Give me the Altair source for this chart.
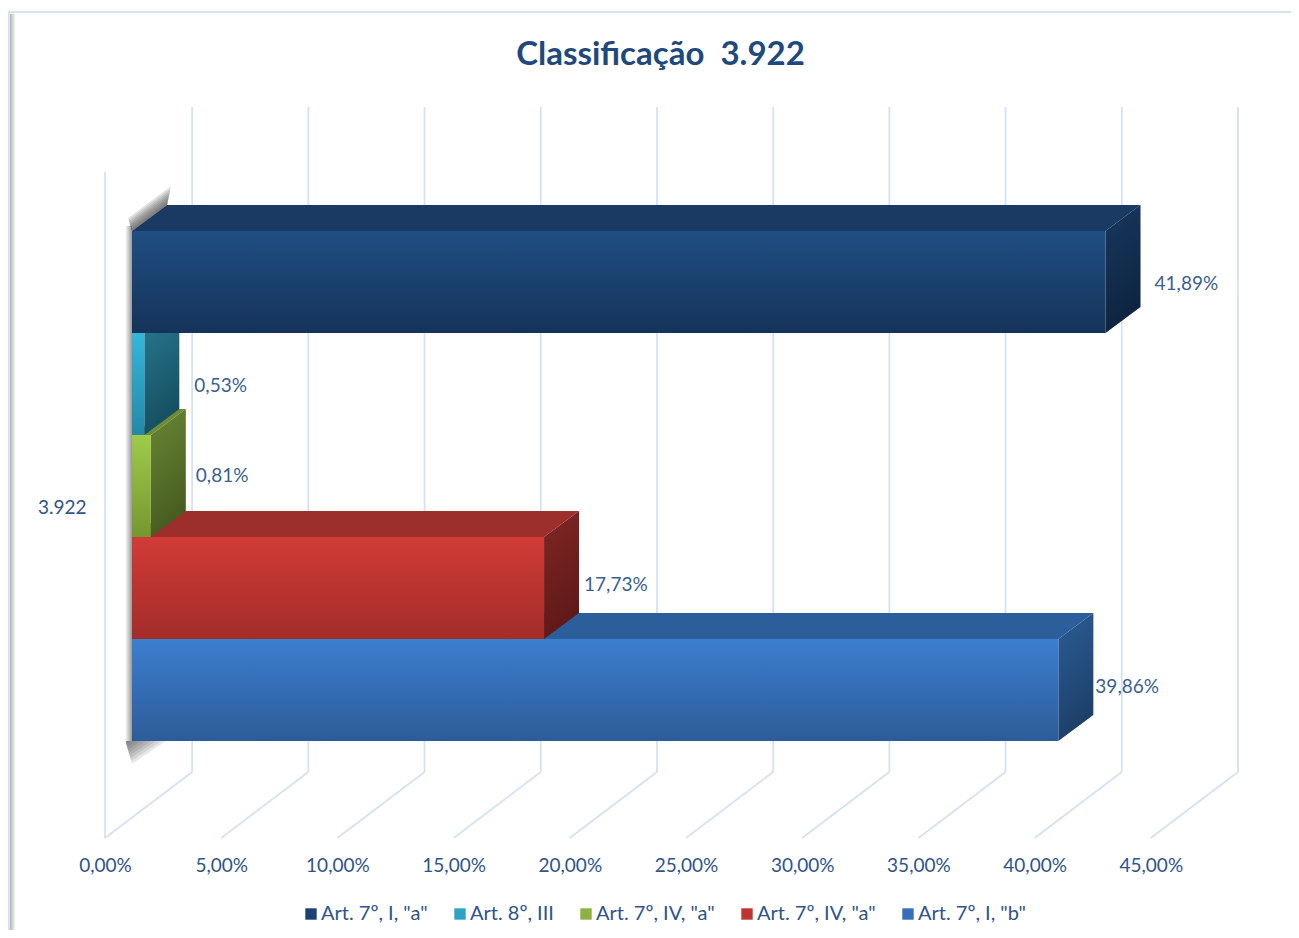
import json
import altair as alt
import pandas as pd

# ---- chart values ----
title_text = "Classificação\u00a0 3.922"
category = "3.922"
series_labels = ['Art. 7º, I, "a"', 'Art. 8º, III', 'Art. 7º, IV, "a"', 'Art. 7º, IV, "a"', 'Art. 7º, I, "b"']
series_values = [41.89, 0.53, 0.81, 17.73, 39.86]
tick_values = [0, 5, 10, 15, 20, 25, 30, 35, 40, 45]

# ---- layout / style (separate from the values) ----
FONT = "Lato"
PX_PER_PCT = 23.24
PX_PER_BAND = 102.0
PLOT_W, PLOT_H = 1133, 731
ORIGIN_X, FLOOR_Y = 105, 838          # page pixels of scale zero
WALL_DX, WALL_DY = 3.75, 66 / PX_PER_BAND
BAR_DX, BAR_DY = 35 / PX_PER_PCT, 26 / PX_PER_BAND
BAR_X0, BAR_Y0 = 27 / PX_PER_PCT, 97 / PX_PER_BAND
WALL_TOP = 731 / PX_PER_BAND
CATEGORY_Y = (FLOOR_Y - 507) / PX_PER_BAND
GRID = "#D5E2F4"
GRID_W = 1.8
TEXT = "#2F5488"
LABEL_TEXT = "#3A5F90"
label_gap_px = [14, 15, 10, 5, 2]
label_shift_px = [2, 2, -10, -3, -3]
palette = [
    dict(legend="#1C4273", front=("#1F4E82", "#15335A"), top="#1A3A63", side=("#17375E", "#0E2440")),
    dict(legend="#2EA3C6", front=("#35B6DB", "#2488A6"), top="#2A7C93", side=("#2A7C93", "#154E60")),
    dict(legend="#8CB33F", front=("#9FCB4A", "#76962F"), top="#6E8B36", side=("#6A8734", "#465C20")),
    dict(legend="#BE3431", front=("#D13B37", "#A32C29"), top="#9C2E2B", side=("#7F2725", "#5F1917")),
    dict(legend="#366FB8", front=("#3C7ECF", "#2D5C99"), top="#2D5E9C", side=("#2B5D96", "#1D3F68")),
]


def grad(c0, c1, x2=0, y2=1, x1=0, y1=0):
    return alt.Gradient(
        gradient="linear", x1=x1, y1=y1, x2=x2, y2=y2,
        stops=[alt.GradientStop(color=c0, offset=0), alt.GradientStop(color=c1, offset=1)],
    )


def px_x(px):
    return (px - ORIGIN_X) / PX_PER_PCT


def px_y(py):
    return (FLOOR_Y - py) / PX_PER_BAND


def lin(x, pts):
    for (a, va), (b, vb) in zip(pts, pts[1:]):
        if a <= x <= b:
            return va if b == a else va + (vb - va) * (x - a) / (b - a)
    return pts[-1][1]


pct_expr = "replace(format(datum.value, '.2f'), '.', ',') + '%'"
xs = alt.Scale(domain=[0, PLOT_W / PX_PER_PCT], nice=False, zero=False)
ys = alt.Scale(domain=[0, PLOT_H / PX_PER_BAND], nice=False, zero=False)
x_axis = alt.Axis(
    values=tick_values, labelExpr=pct_expr, grid=False, domain=False, ticks=False,
    labelFont=FONT, labelFontSize=19, labelColor=TEXT, labelPadding=27, labelBaseline="middle",
    labelFlush=False, labelOverlap=False,
)
y_axis = alt.Axis(
    values=[CATEGORY_Y], labelExpr=json.dumps(category), grid=False, domain=False, ticks=False,
    labelFont=FONT, labelFontSize=19, labelColor=TEXT, labelPadding=19,
)
X = alt.X("x:Q", scale=xs, axis=x_axis, title=None)
Y = alt.Y("y:Q", scale=ys, axis=y_axis, title=None)
X2 = alt.X2("x2:Q")
Y2 = alt.Y2("y2:Q")

layers = []

# page decoration
deco = pd.DataFrame({"a": [0]})
layers.append(alt.Chart(deco).mark_rule(color="#D5E3F3", strokeWidth=2).encode(
    x=alt.value(8 - ORIGIN_X - 8), x2=alt.value(1291 - ORIGIN_X), y=alt.value(12 - 107)))
layers.append(alt.Chart(deco).mark_rect(fill="#D5E3F3").encode(
    x=alt.value(8 - ORIGIN_X), x2=alt.value(10 - ORIGIN_X), y=alt.value(12 - 107), y2=alt.value(930 - 107)))
layers.append(alt.Chart(deco).mark_rect(fill=grad("#B4B4B4", "#FFFFFF", x2=1, y2=0)).encode(
    x=alt.value(10 - ORIGIN_X), x2=alt.value(16 - ORIGIN_X), y=alt.value(14 - 107), y2=alt.value(930 - 107)))

# back wall verticals
back = pd.DataFrame({
    "x": [t + WALL_DX for t in tick_values],
    "y": [WALL_DY] * len(tick_values),
    "y2": [WALL_TOP] * len(tick_values),
})
layers.append(alt.Chart(back).mark_rule(color=GRID, strokeWidth=GRID_W).encode(x=X, y=Y, y2=Y2))

# left wall
wall = pd.DataFrame({"x": [0], "y": [0], "y2": [px_y(172)]})
layers.append(alt.Chart(wall).mark_rule(color=GRID, strokeWidth=GRID_W).encode(x=X, y=Y, y2=Y2))

# floor diagonals
rows = []
for t in tick_values:
    rows.append({"x": t, "y": 0, "k": t})
    rows.append({"x": t + WALL_DX, "y": WALL_DY, "k": t})
layers.append(alt.Chart(pd.DataFrame(rows)).mark_line(color=GRID, strokeWidth=GRID_W).encode(
    x=X, y=Y, detail="k:N", order="y:Q"))

# soft shadow behind the block of bars (stacked translucent shapes)
shadow_left = pd.DataFrame({"x": [px_x(125)], "x2": [BAR_X0], "y": [px_y(741)], "y2": [px_y(226)]})
layers.append(alt.Chart(shadow_left).mark_rect(
    fill=grad("rgba(90,90,90,0)", "rgba(90,90,90,0.62)", x2=1, y2=0)
).encode(x=X, x2=X2, y=Y, y2=Y2))

STEPS = 8
for k in range(1, STEPS + 1):
    f = k / STEPS
    # above the left edge of the top face
    ax, ay, bx, by = 132, 231, 167, 205
    a2x, a2y = ax - 4 * f, ay - 13 * f
    b2x, b2y = bx + 4 * f, by - 19 * f
    up = [(a2x, a2y), (b2x, b2y)]
    lo = [(a2x, a2y), (ax, ay), (bx, by), (b2x, b2y)]
    pts = [a2x, ax, bx, b2x]
    df = pd.DataFrame({
        "x": [px_x(p) for p in pts],
        "y": [px_y(lin(p, up)) for p in pts],
        "y2": [px_y(lin(p, lo)) for p in pts],
    })
    layers.append(alt.Chart(df).mark_area(orient="vertical", fill="#505050", opacity=0.15).encode(x=X, y=Y, y2=Y2))
    # below the bottom-left corner of the block
    cx, cy = 126, 741
    pts = [cx, cx + 6 * f, cx + 40 * f]
    df = pd.DataFrame({
        "x": [px_x(p) for p in pts],
        "y": [px_y(cy)] * 3,
        "y2": [px_y(cy + 3 * f), px_y(cy + 23 * f), px_y(cy)],
    })
    layers.append(alt.Chart(df).mark_area(orient="vertical", fill="#505050", opacity=0.13).encode(x=X, y=Y, y2=Y2))

# bars, drawn from the bottom of the stack to the top
n = len(series_values)
for i in range(n - 1, -1, -1):
    v = series_values[i]
    pal = palette[i]
    band = n - 1 - i
    x0, x1 = BAR_X0, BAR_X0 + v
    bot, top = BAR_Y0 + band, BAR_Y0 + band + 1

    # top face
    upper = [(x0, top), (x0 + BAR_DX, top + BAR_DY), (max(x1, x0) + BAR_DX, top + BAR_DY)]
    lower = [(x0, top), (x1, top), (x1 + BAR_DX, top + BAR_DY)]
    xsv = sorted({x0, x1, x0 + BAR_DX, x1 + BAR_DX})
    top_df = pd.DataFrame({"x": xsv, "y": [lin(t, upper) for t in xsv], "y2": [lin(t, lower) for t in xsv]})
    layers.append(alt.Chart(top_df).mark_area(orient="vertical", fill=pal["top"]).encode(x=X, y=Y, y2=Y2))

    # side face
    side_df = pd.DataFrame({"x": [x1, x1 + BAR_DX], "y": [bot, bot + BAR_DY], "y2": [top, top + BAR_DY]})
    layers.append(alt.Chart(side_df).mark_area(
        orient="vertical", fill=grad(pal["side"][0], pal["side"][1], x2=0.25, y2=1)
    ).encode(x=X, y=Y, y2=Y2))

    # front face
    front_df = pd.DataFrame({"x": [x0], "x2": [x1], "y": [bot], "y2": [top]})
    layers.append(alt.Chart(front_df).mark_rect(fill=grad(pal["front"][0], pal["front"][1])).encode(
        x=X, x2=X2, y=Y, y2=Y2))

# value labels
label_df = pd.DataFrame({
    "x": [BAR_X0 + v + BAR_DX + g / PX_PER_PCT for v, g in zip(series_values, label_gap_px)],
    "y": [BAR_Y0 + (n - 1 - i) + 0.5 - label_shift_px[i] / PX_PER_BAND for i in range(n)],
    "t": [f"{v:.2f}".replace(".", ",") + "%" for v in series_values],
})
layers.append(alt.Chart(label_df).mark_text(
    align="left", baseline="middle", font=FONT, fontSize=19, color=LABEL_TEXT
).encode(x=X, y=Y, text="t:N"))

# legend
keys = [str(i) for i in range(n)]
legend_df = pd.DataFrame({"k": keys, "x": [0] * n, "y": [0] * n})
layers.append(alt.Chart(legend_df).mark_square(size=0).encode(
    x=X, y=Y,
    color=alt.Color("k:N", scale=alt.Scale(domain=keys, range=[p["legend"] for p in palette]), legend=alt.Legend(
        title=None, orient="none", legendX=304 - ORIGIN_X - 3, legendY=913 - 107 - 9,
        direction="horizontal", columns=5, symbolType="square", symbolSize=130,
        symbolStrokeWidth=0, labelFont=FONT, labelFontSize=20, labelColor=TEXT,
        labelExpr=json.dumps(series_labels) + "[+datum.value]", columnPadding=22, labelOffset=0,
        symbolOpacity=1,
    )),
))

chart = alt.layer(*layers).properties(
    width=PLOT_W, height=PLOT_H,
    padding={"left": 97, "top": 99, "right": 53, "bottom": 92},
    autosize=alt.AutoSizeParams(type="none"),
    title=alt.TitleParams(title_text, font=FONT, fontSize=33, fontWeight="bold", color="#1F497D",
                          anchor="middle", dx=-11, dy=61, offset=0),
).configure_view(stroke=None)

chart.save("out.html", embed_options={"renderer": "svg", "actions": False})
